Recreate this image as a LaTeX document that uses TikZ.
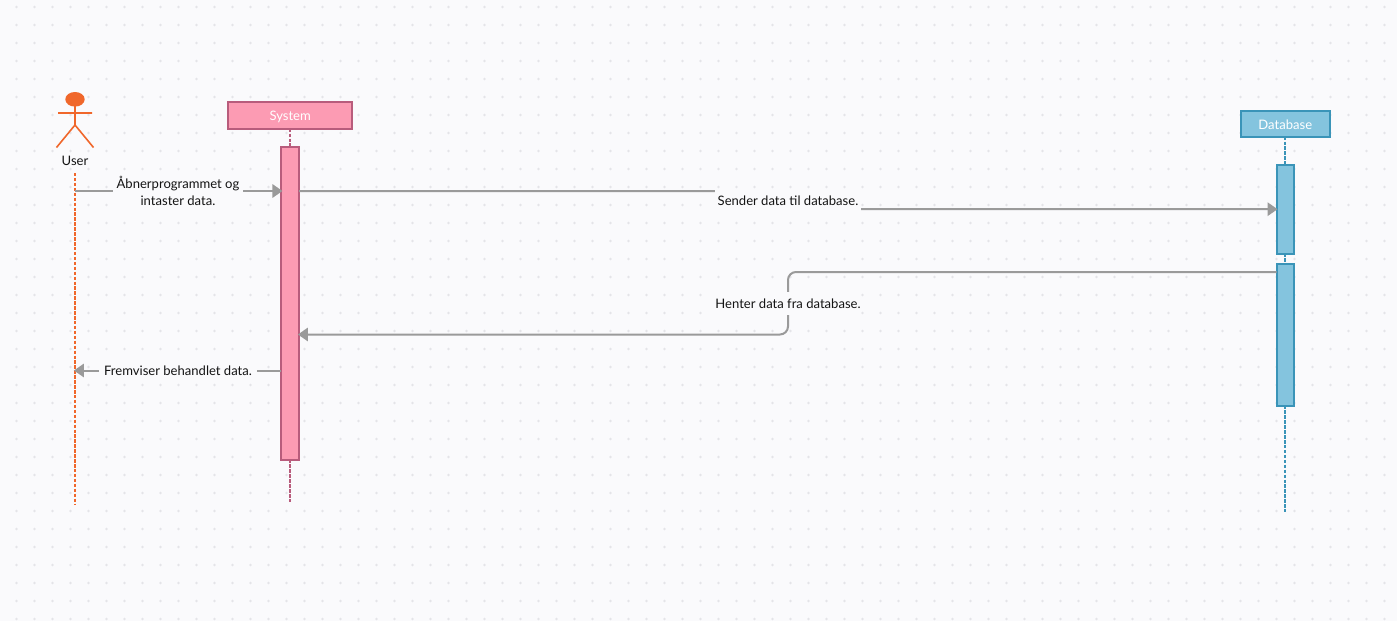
\documentclass[tikz,border=0pt]{standalone}
\usepackage{fontspec}
\setmainfont{Lato}
\usetikzlibrary{arrows.meta,calc}
\definecolor{bgc}{HTML}{FAFAFC}
\definecolor{dotc}{HTML}{E4E4E8}
\definecolor{pinkf}{HTML}{FC9BB3}
\definecolor{pinkd}{HTML}{B85C7C}
\definecolor{bluef}{HTML}{84C4DE}
\definecolor{blued}{HTML}{3A94B8}
\definecolor{orange1}{HTML}{F0672B}
\definecolor{msgc}{HTML}{9A9A9A}
\definecolor{textc}{HTML}{141414}
\tikzset{
  x=0.75pt,y=-0.75pt,
  lbl/.style={font=\fontsize{9.8pt}{12.8pt}\selectfont,text=textc,align=center,inner sep=0pt,outer sep=0pt},
  msglabel/.style={lbl,fill=bgc},
  headbox/.style={draw,line width=1.5pt,text=white,outer sep=0pt,inner sep=0pt,font=\fontsize{9.8pt}{12pt}\selectfont},
  sysbox/.style={headbox,fill=pinkf,draw=pinkd},
  dbbox/.style={headbox,fill=bluef,draw=blued},
  actbox/.style={draw,line width=1.5pt,outer sep=0pt,inner sep=0pt,minimum width=13.2pt},
  sysact/.style={actbox,fill=pinkf,draw=pinkd},
  dbact/.style={actbox,fill=bluef,draw=blued},
  lifeline/.style={line width=1.5pt,dash pattern=on 2.6pt off 1.1pt},
  msg/.style={draw=msgc,line width=1.5pt,rounded corners=6pt},
  msgarrow/.style={msg,shorten >=-0.8pt,-{Triangle[length=7.5pt,width=10pt,fill=msgc]}},
  actorline/.style={draw=orange1,line width=1.2pt}
}
\begin{document}
\begin{tikzpicture}
\useasboundingbox (0,0) rectangle (1397,621);
\fill[bgc] (0,0) rectangle (1397,621);
% dotted grid
\fill[dotc] foreach \i in {0,...,77} { foreach \j in {0,...,34} {
  ({-1.5+18*\i},{7+18*\j}) circle[radius=1.4] } };

% actor
\fill[orange1] (75,99.3) ellipse[x radius=9.7,y radius=7.3];
\draw[actorline] (75,106) -- (75,125) (58,113) -- (92,113)
  (56.5,147.5) -- (75,125) -- (93.5,147.5);
\node[lbl] (user) at (75,161) {User};

% head boxes
\node[sysbox,minimum width=93.4pt,minimum height=20pt,text height=8.2pt,text depth=0pt] (system) at (290.2,115.3) {System};
\node[dbbox,minimum width=66.4pt,minimum height=19.2pt,text height=8.7pt,text depth=0pt] (database) at (1285.3,123.8) {Database};

% activations
\node[sysact,minimum height=234.5pt] (sysA) at (290.2,303.2) {};
\node[dbact,minimum height=66.5pt] (dbA) at (1285.3,209.2) {};
\node[dbact,minimum height=106.5pt] (dbB) at (1285.3,334.5) {};

% lifelines
\coordinate (userTop) at (75,173);
\coordinate (userEnd) at (75,505);
\coordinate (sysEnd) at (290.2,503);
\coordinate (dbEnd) at (1285.3,512);
\draw[lifeline,draw=orange1] (userTop) -- (userEnd);
\draw[lifeline,draw=pinkd] (system.south) -- (sysA.north);
\draw[lifeline,draw=pinkd] (sysA.south) -- (sysEnd);
\draw[lifeline,draw=blued] (database.south) -- (dbA.north);
\draw[lifeline,draw=blued] (dbA.south) -- (dbB.north);
\draw[lifeline,draw=blued] (dbB.south) -- (dbEnd);

% message anchors
\coordinate (m1a) at (75,191);
\coordinate (m2a) at (sysA.east |- m1a);
\coordinate (m2b) at (dbA.west);
\coordinate (m3a) at (dbB.west |- 0,272);
\coordinate (m3b) at (sysA.east |- 0,334.5);
\coordinate (m4a) at (sysA.west |- 0,370.5);
\coordinate (m4b) at (75,370.5);

% messages
\draw[msgarrow] (m1a) -- (sysA.west |- m1a);
\draw[msgarrow,rounded corners=0pt] (m2a) -| (788,209) -- (m2b);
\draw[msgarrow] (m3a) -| (788,334.5) -- (m3b);
\draw[msgarrow] (m4a) -- (m4b);

% labels
\node[msglabel,minimum width=97.5pt,minimum height=26pt] (l1) at (178,191) {Åbnerprogrammet og\\intaster data.};
\node[msglabel,minimum width=109.5pt,minimum height=17pt] (l2) at (788,200.5) {Sender data til database.};
\node[msglabel,minimum width=109.5pt,minimum height=17pt] (l3) at (788,303.5) {Henter data fra database.};
\node[msglabel,minimum width=119pt,minimum height=12pt] (l4) at (178,370.5) {Fremviser behandlet data.};
\end{tikzpicture}
\end{document}
